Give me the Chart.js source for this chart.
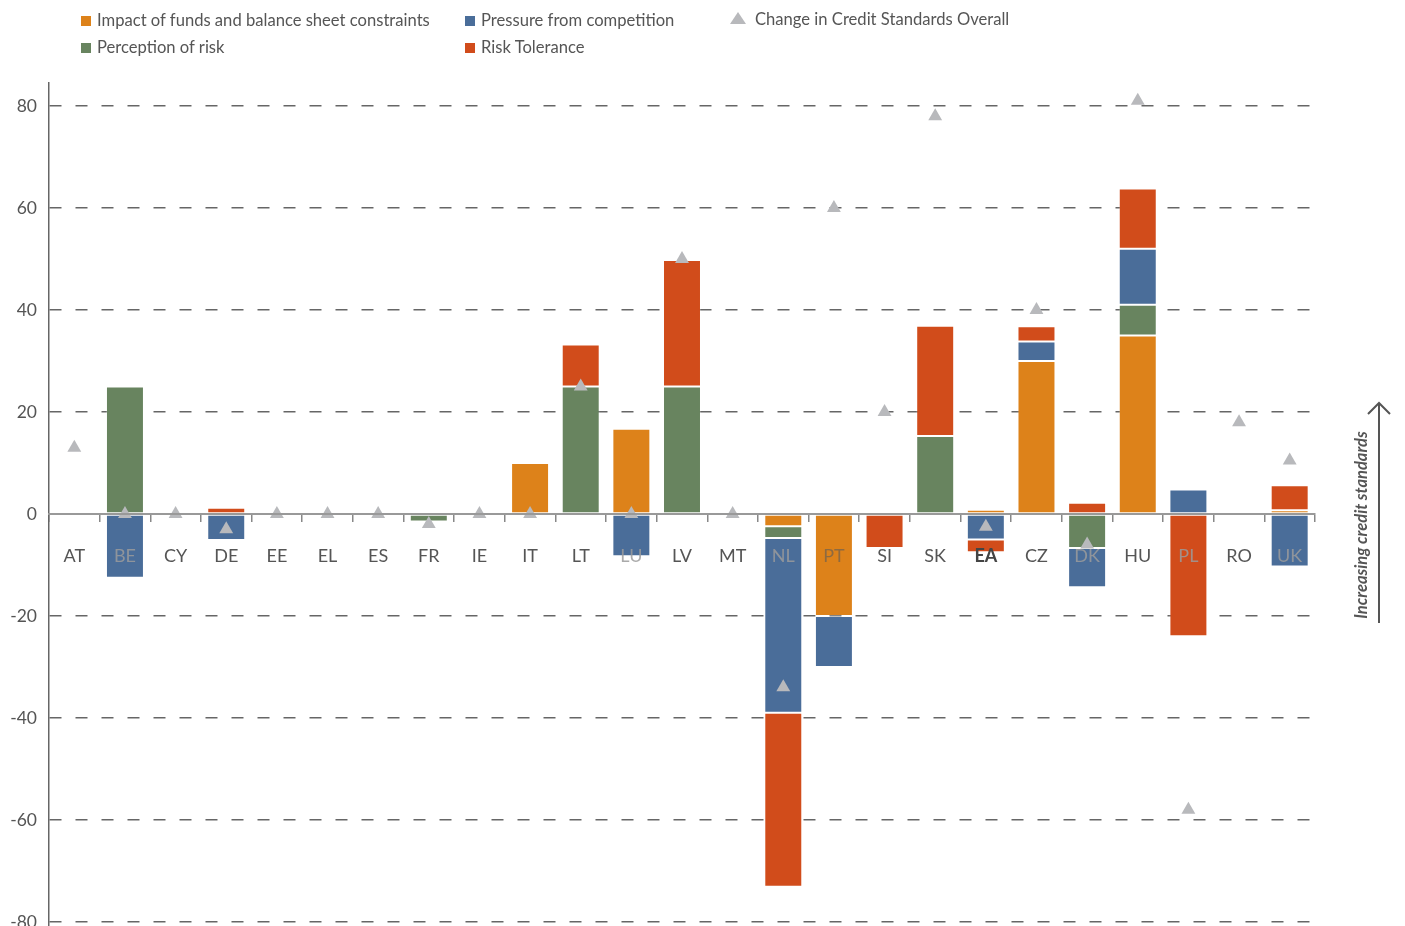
<!DOCTYPE html>
<html>
<head>
<meta charset="utf-8">
<script src="https://cdn.jsdelivr.net/npm/chart.js@4/dist/chart.umd.min.js"></script>
<style>
    html, body { margin: 0; background: #fff; font-family: Lato, sans-serif; overflow: hidden; }
    .wrap { position: relative; width: 1405px; height: 935px; }
    .legend-item { position: absolute; font-size: 16.6px; color: #555; line-height: 20px; white-space: nowrap; }
    .legend-item .sw { display: inline-block; width: 10px; height: 10px; margin-right: 6px; vertical-align: 0px; }
    .legend-item .tri { display: inline-block; width: 0; height: 0; border-left: 8px solid transparent; border-right: 8px solid transparent; border-bottom: 12px solid #b8b9bc; margin-right: 9px; vertical-align: 1px; }
    .side-note { position: absolute; left: 1361px; top: 525px; width: 260px; transform: translate(-50%, -50%) rotate(-90deg); text-align: center; font-style: italic; font-weight: 700; font-size: 16.5px; color: #555; }
</style>
</head>
<body>
<div class="wrap">
    <canvas id="creditChart"></canvas>
    <div class="legend-item" style="left:81px; top:10px;"><span class="sw" style="background:#dd821a"></span>Impact of funds and balance sheet constraints</div>
    <div class="legend-item" style="left:81px; top:37px;"><span class="sw" style="background:#68845f"></span>Perception of risk</div>
    <div class="legend-item" style="left:465px; top:10px;"><span class="sw" style="background:#4a6d99"></span>Pressure from competition</div>
    <div class="legend-item" style="left:465px; top:37px;"><span class="sw" style="background:#d14c1b"></span>Risk Tolerance</div>
    <div class="legend-item" style="left:730px; top:9px;"><span class="tri"></span>Change in Credit Standards Overall</div>
    <div class="side-note">Increasing credit standards</div>
</div>
<script>
// ── Chart data ──
const countries = ['AT', 'BE', 'CY', 'DE', 'EE', 'EL', 'ES', 'FR', 'IE', 'IT', 'LT', 'LU', 'LV',
                   'MT', 'NL', 'PT', 'SI', 'SK', 'EA', 'CZ', 'DK', 'HU', 'PL', 'RO', 'UK'];
const fundsImpact    = [0, 0, 0, 0, 0, 0, 0, 0, 0, 10, 0, 16.7, 0, 0, -2.4, -20, 0, 0, 0.8, 30, 0, 35, 0, 0, 0.7];
const riskPerception = [0, 25, 0, 0, 0, 0, 0, -1.5, 0, 0, 25, 0, 25, 0, -2.3, 0, 0, 15.3, 0.4, 0, -6.7, 6, 0, 0, 0];
const competition    = [0, -12.5, 0, -5.1, 0, 0, 0, 0, 0, 0, 0, -8.3, 0, 0, -34.3, -10, 0, 0, -5, 3.8, -7.7, 11, 4.8, 0, -10.3];
const riskTolerance  = [0, 0, 0, 1.2, 0, 0, 0, 0, 0, 0, 8.2, 0, 24.8, 0, -34.1, 0, -6.7, 21.6, -2.5, 3, 2.2, 11.8, -24, 0, 4.9];
const overallChange  = [13, 0, 0, -3, 0, 0, 0, -2, 0, 0, 25, 0, 50, 0, -34, 60, 20, 78, -2.5, 40, -6, 81, -58, 18, 10.5];
const yTicks = [-80, -60, -40, -20, 0, 20, 40, 60, 80];

// ── Label colour: which stacked segment sits behind the country label ──
const stackOrder = [fundsImpact, riskPerception, competition, riskTolerance];
function labelColor(i) {
    if (countries[i] === 'EA') return '#444';
    let acc = 0;
    for (let k = 0; k < stackOrder.length; k++) {
        acc += Math.min(stackOrder[k][i], 0);
        if (acc < -8) return k === 0 ? 'rgba(90,90,90,0.6)' : 'rgba(155,155,155,0.85)';
    }
    return '#555';
}

// ── Side arrow ──
const sideArrow = {
    id: 'sideArrow',
    afterDraw(chart) {
        const c = chart.ctx;
        c.save();
        c.strokeStyle = '#555';
        c.lineWidth = 2;
        c.beginPath();
        c.moveTo(1379, 623);
        c.lineTo(1379, 404);
        c.moveTo(1368, 414);
        c.lineTo(1379, 403);
        c.lineTo(1390, 414);
        c.stroke();
        c.restore();
    }
};

const barStyle = { borderWidth: 1, borderColor: 'rgba(255,255,255,0.2)', borderSkipped: false, order: 1 };

// ── Build Chart ──
const ctx = document.getElementById('creditChart').getContext('2d');
const creditChart = new Chart(ctx, {
    type: 'bar',
    data: {
        labels: countries,
        datasets: [
            { label: 'Impact of funds and balance sheet constraints', data: fundsImpact, backgroundColor: '#dd821a', ...barStyle },
            { label: 'Perception of risk', data: riskPerception, backgroundColor: '#68845f', ...barStyle },
            { label: 'Pressure from competition', data: competition, backgroundColor: '#4a6d99', ...barStyle },
            { label: 'Risk Tolerance', data: riskTolerance, backgroundColor: '#d14c1b', ...barStyle },
            {
                type: 'line',
                label: 'Change in Credit Standards Overall',
                data: overallChange,
                showLine: false,
                pointStyle: 'triangle',
                pointRadius: 8,
                pointHoverRadius: 8,
                pointBackgroundColor: '#b8b9bc',
                pointBorderColor: '#b8b9bc',
                pointBorderWidth: 0,
                order: 0
            }
        ]
    },
    options: {
        responsive: true,
        maintainAspectRatio: false,
        animation: false,
        datasets: { bar: { categoryPercentage: 0.75, barPercentage: 1 } },
        plugins: {
            legend: { display: false },
            tooltip: { enabled: false }
        },
        layout: { padding: { top: 83, right: 90, bottom: 0, left: 0 } },
        scales: {
            x: {
                stacked: true,
                position: { y: 0 },
                afterFit: scale => { scale.height = 0; scale.paddingLeft = 0; scale.paddingRight = 0; },
                grid: { drawOnChartArea: false, drawTicks: true, tickLength: 7, color: '#888', lineWidth: 1.5, offset: true },
                border: { color: '#999', width: 2, z: 1 },
                ticks: {
                    z: 1,
                    padding: 24,
                    autoSkip: false,
                    maxRotation: 0,
                    color: c => labelColor(c.index),
                    font: c => ({ family: 'Lato', size: 18, weight: countries[c.index] === 'EA' ? 'bold' : 'normal' })
                }
            },
            y: {
                stacked: true,
                min: -81,
                max: 84.5,
                afterBuildTicks: scale => { scale.ticks = yTicks.map(v => ({ value: v })); },
                afterFit: scale => { scale.width = 49; scale.paddingTop = 0; scale.paddingBottom = 0; },
                grid: {
                    drawTicks: false,
                    color: c => c.tick && c.tick.value === 0 ? 'rgba(0,0,0,0)' : '#666',
                    lineWidth: 1.5
                },
                border: { color: '#666', width: 1.5, dash: [12, 14], dashOffset: 0 },
                ticks: { padding: 12, color: '#555', font: { family: 'Lato', size: 17.5 } }
            }
        }
    },
    plugins: [sideArrow]
});
</script>
</body>
</html>
